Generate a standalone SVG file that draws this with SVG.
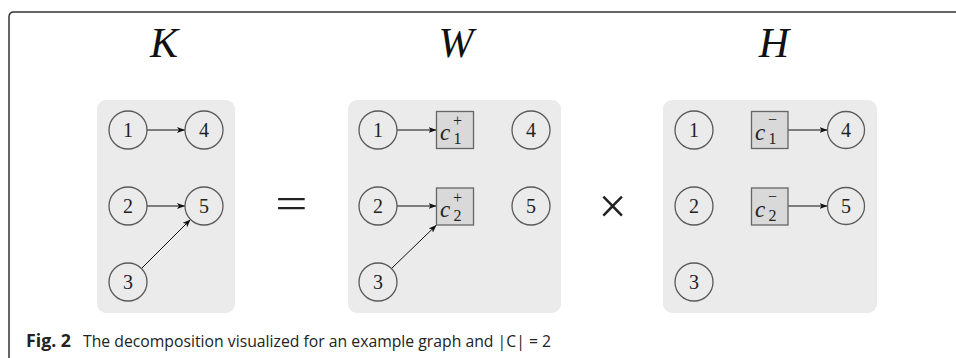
<svg xmlns="http://www.w3.org/2000/svg" width="956" height="358" viewBox="0 0 956 358">
<style>
.panel{fill:#ebebeb;stroke:none}
.node{fill:none;stroke:#5a5a5a;stroke-width:1.3}
.sq{fill:#d9d9d9;stroke:#666;stroke-width:1.3}
.num{font-family:"Liberation Serif","Times New Roman",serif;font-size:20px;fill:#222;text-anchor:middle}
.cv{font-family:"Liberation Serif","Times New Roman",serif;font-style:italic;font-size:23px;fill:#222}
.sc{font-family:"Liberation Serif","Times New Roman",serif;font-size:16px;fill:#222}
.title{font-family:"Liberation Serif","Times New Roman",serif;font-style:italic;font-size:42px;fill:#111;text-anchor:middle}
.op{font-family:"Liberation Serif","Times New Roman",serif;fill:#222;text-anchor:middle}
.edge{stroke:#111;stroke-width:1;fill:none;marker-end:url(#ah)}
.cap{font-family:"Open Sans",sans-serif;font-size:17px;fill:#222}
</style>
<defs>
<marker id="ah" markerUnits="userSpaceOnUse" markerWidth="9" markerHeight="7" refX="8" refY="3" orient="auto">
<path d="M0,0 L8,3 L0,6 L2,3 z" fill="#111"/>
</marker>
</defs>
<path d="M9,360 L9,17 Q9,12 14,12 L960,12" fill="none" stroke="#333" stroke-width="1.5"/>
<text class="title" x="164" y="57">K</text>
<text class="title" x="456" y="57">W</text>
<text class="title" x="774" y="57">H</text>
<rect class="panel" x="97" y="100" width="138" height="213" rx="9"/>
<rect class="panel" x="348" y="100" width="213" height="213" rx="9"/>
<rect class="panel" x="663" y="100" width="214" height="213" rx="9"/>
<text class="op" font-size="44" transform="translate(291.5,218) scale(1.3,1)">=</text>
<text class="op" font-size="50" x="612.5" y="223">×</text>
<g id="connectors">
<line class="edge" x1="147" y1="130" x2="185" y2="130"/>
<line class="edge" x1="147" y1="206" x2="185" y2="206"/>
<line class="edge" x1="141.4" y1="268.6" x2="190.6" y2="219.4"/>
<line class="edge" x1="397" y1="130" x2="436.5" y2="130"/>
<line class="edge" x1="397" y1="206" x2="436.5" y2="206"/>
<line class="edge" x1="391.4" y1="268.6" x2="436.5" y2="225"/>
<line class="edge" x1="788" y1="130" x2="827.5" y2="130"/>
<line class="edge" x1="788" y1="206" x2="827.5" y2="206"/>
</g>
<g id="K1"><circle class="node" cx="128" cy="130" r="19"/><text class="num" x="128" y="136.5">1</text></g>
<g id="K4"><circle class="node" cx="204" cy="130" r="19"/><text class="num" x="204" y="136.5">4</text></g>
<g id="K2"><circle class="node" cx="128" cy="206" r="19"/><text class="num" x="128" y="212.5">2</text></g>
<g id="K5"><circle class="node" cx="204" cy="206" r="19"/><text class="num" x="204" y="212.5">5</text></g>
<g id="K3"><circle class="node" cx="128" cy="282" r="19"/><text class="num" x="128" y="288.5">3</text></g>
<g id="W1"><circle class="node" cx="378" cy="130" r="19"/><text class="num" x="378" y="136.5">1</text></g>
<g id="W2"><circle class="node" cx="378" cy="206" r="19"/><text class="num" x="378" y="212.5">2</text></g>
<g id="W3"><circle class="node" cx="378" cy="282" r="19"/><text class="num" x="378" y="288.5">3</text></g>
<g id="W4"><circle class="node" cx="531" cy="130" r="19"/><text class="num" x="531" y="136.5">4</text></g>
<g id="W5"><circle class="node" cx="531" cy="206" r="19"/><text class="num" x="531" y="212.5">5</text></g>
<g id="Wc1"><rect class="sq" x="436.5" y="111.5" width="37" height="37"/><text class="cv" x="440" y="140">c</text><text class="sc" x="453" y="126">+</text><text class="sc" x="453.5" y="144">1</text></g>
<g id="Wc2"><rect class="sq" x="436.5" y="188" width="37" height="37"/><text class="cv" x="440" y="216.5">c</text><text class="sc" x="453" y="202.5">+</text><text class="sc" x="453.5" y="220.5">2</text></g>
<g id="H1"><circle class="node" cx="694" cy="130" r="19"/><text class="num" x="694" y="136.5">1</text></g>
<g id="H2"><circle class="node" cx="694" cy="206" r="19"/><text class="num" x="694" y="212.5">2</text></g>
<g id="H3"><circle class="node" cx="694" cy="282" r="19"/><text class="num" x="694" y="288.5">3</text></g>
<g id="H4"><circle class="node" cx="846" cy="130" r="18.5"/><text class="num" x="846" y="136.5">4</text></g>
<g id="H5"><circle class="node" cx="846" cy="206" r="18.5"/><text class="num" x="846" y="212.5">5</text></g>
<g id="Hc1"><rect class="sq" x="751.5" y="111.5" width="36.5" height="37"/><text class="cv" x="755" y="140">c</text><text class="sc" x="768" y="125">−</text><text class="sc" x="768.5" y="144">1</text></g>
<g id="Hc2"><rect class="sq" x="751.5" y="188" width="36.5" height="37"/><text class="cv" x="755" y="216.5">c</text><text class="sc" x="768" y="201.5">−</text><text class="sc" x="768.5" y="220.5">2</text></g>
<text class="cap" x="26" y="347" font-weight="bold" textLength="45" lengthAdjust="spacingAndGlyphs">Fig. 2</text>
<text class="cap" x="83" y="347" textLength="468" lengthAdjust="spacingAndGlyphs">The decomposition visualized for an example graph and |C| = 2</text>
</svg>
